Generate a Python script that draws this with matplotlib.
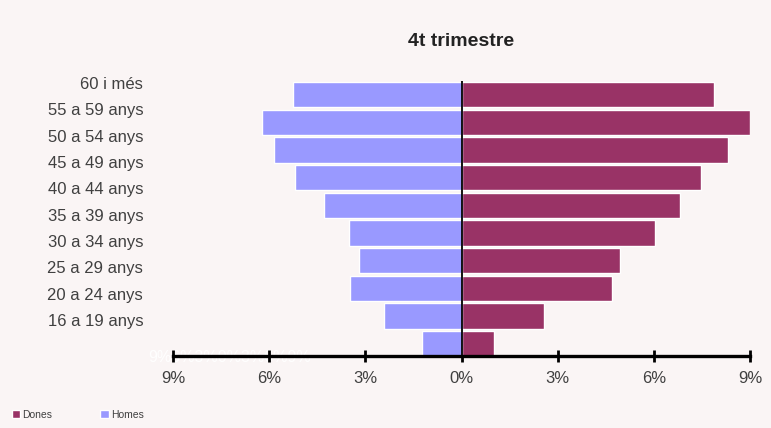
import matplotlib
matplotlib.use("Agg")
import matplotlib.pyplot as plt
from matplotlib.ticker import FuncFormatter

plt.rcParams['font.family'] = ['Liberation Sans', 'DejaVu Sans']

# ---- data ----
age_groups = ["60 i més", "55 a 59 anys", "50 a 54 anys", "45 a 49 anys",
              "40 a 44 anys", "35 a 39 anys", "30 a 34 anys", "25 a 29 anys",
              "20 a 24 anys", "16 a 19 anys"]
homes = [5.26, 6.22, 5.86, 5.18, 4.28, 3.50, 3.21, 3.47, 2.41, 1.22]
dones = [7.89, 8.99, 8.30, 7.47, 6.83, 6.04, 4.93, 4.68, 2.56, 1.01]
x_ticks = [-9, -6, -3, 0, 3, 6, 9]
title = "4t trimestre"
ghost_text = "9%6%3%0%3%6%9%"

# ---- style ----
bg = '#FAF5F5'
c_dones = '#993366'
c_homes = '#9999FF'
txt = '#404040'

W, H = 771, 428
fig = plt.figure(figsize=(W / 100, H / 100), dpi=100, facecolor=bg)

ax_left_px, ax_right_px = 173, 750
ax_top_px, ax_bot_px = 81, 355.5
ax = fig.add_axes([ax_left_px / W, 1 - ax_bot_px / H,
                   (ax_right_px - ax_left_px) / W, (ax_bot_px - ax_top_px) / H])
ax.set_facecolor(bg)

ypos = list(range(len(age_groups)))
ax.barh(ypos, [-v for v in homes], height=0.92, color=c_homes,
        edgecolor='white', linewidth=1.0, label='Homes', zorder=2)
ax.barh(ypos, dones, height=0.92, color=c_dones,
        edgecolor='white', linewidth=1.0, label='Dones', zorder=2)
ax.axvline(0, color='black', lw=1.3, zorder=3)

ax.set_xlim(-9, 9)
ax.set_ylim(9.425, -0.495)

# x axis
ax.set_xticks(x_ticks)
ax.xaxis.set_major_formatter(FuncFormatter(lambda v, p: f"{abs(v):.0f}%"))
ax.tick_params(axis='x', direction='inout', length=9, width=2, color='black',
               labelsize=12, labelcolor=txt, pad=7)
for s in ['top', 'right', 'left']:
    ax.spines[s].set_visible(False)
ax.spines['bottom'].set_linewidth(2.4)
ax.spines['bottom'].set_color('black')
ax.spines['bottom'].set_zorder(4)

# y labels (spaced slightly tighter than the bars, as in the reference)
label_pitch = 26.33 / 27.67
label_offset = (83 - 94.7) / 27.67
ax.set_yticks([label_offset + i * label_pitch for i in ypos])
ax.set_yticklabels(age_groups)
ax.tick_params(axis='y', length=0, labelsize=12, labelcolor=txt, pad=21.5)

# title
fig.text(461 / W, 1 - 42 / H, title, ha='center', va='center',
         fontsize=14, fontweight='bold', color='#222222')

# faint ghost text, beneath the axis line
ax.text(148 / W, 1 - 358 / H, ghost_text, ha='left', va='center',
        fontsize=11.5, color='white', transform=fig.transFigure,
        clip_on=False, zorder=1)

# legend
handles, labels = ax.get_legend_handles_labels()
order = [1, 0]
fig.legend([handles[i] for i in order], [labels[i] for i in order],
           loc='center left', bbox_to_anchor=(12 / W, 1 - 415 / H),
           frameon=False, ncol=2, fontsize=7.5, borderpad=0, borderaxespad=0,
           handlelength=0.8, handleheight=0.8, handletextpad=0.2,
           columnspacing=4.6, labelcolor=txt)

fig.savefig('out.png', dpi=100, facecolor=bg)
